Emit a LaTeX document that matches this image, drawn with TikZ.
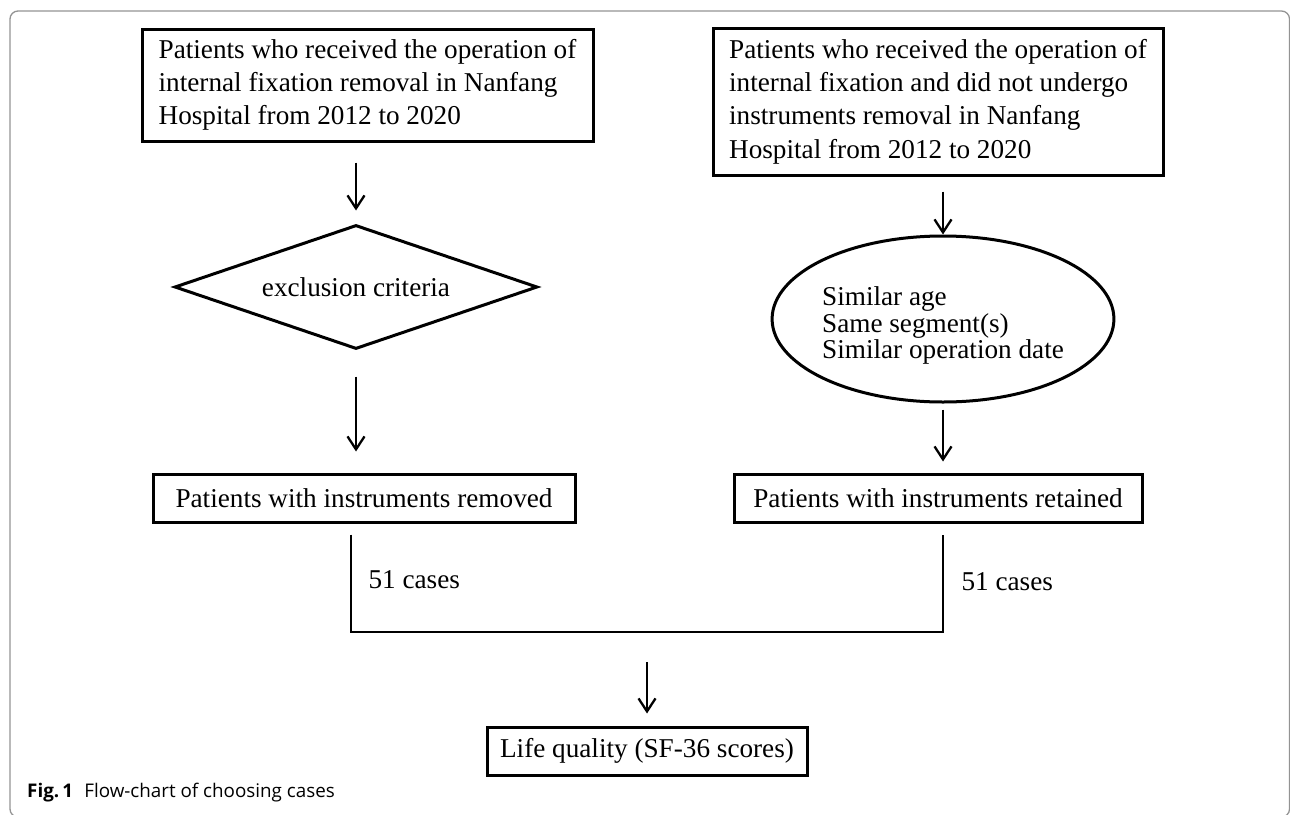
\documentclass[tikz,border=0pt]{standalone}
\usepackage{fontspec}
\setmainfont{Liberation Serif}
\newfontfamily\capfont{Open Sans}
\usepackage{tikz}
\usetikzlibrary{arrows.meta,shapes.geometric}

\newcommand{\chartfont}{\fontsize{27.2}{33.3}\selectfont}

\begin{document}
\begin{tikzpicture}[
  x=1pt, y=-1pt,
  >={Straight Barb[length=13pt,width=17pt]},
  box/.style={draw, line width=3pt, inner ysep=0pt, font=\chartfont},
  arr/.style={->, line width=2.3pt},
  link/.style={line width=2.8pt},
  cases/.style={anchor=west, font=\chartfont}
]
\useasboundingbox (0,0) rectangle (1290,814);
% Frame round the figure
\draw[gray!85, line width=1.3pt, rounded corners=8pt] (10,11) rectangle (1289.5,817);

% Left column: removal group
\node[box, align=left, minimum width=451pt, minimum height=112pt] (topL) at (367.5,85)
  {Patients who received the operation of\\internal fixation removal in Nanfang\\Hospital from 2012 to 2020};
\node[draw, diamond, line width=3pt, inner sep=0pt, aspect=2.93,
  minimum width=363pt, minimum height=124pt, font=\chartfont] (excl) at (356,287) {exclusion criteria};
\node[box, minimum width=422pt, minimum height=48pt] (remL) at (364,498) {Patients with instruments removed};

% Right column: retained group
\node[box, align=left, minimum width=450pt, minimum height=147pt] (topR) at (938,101.5)
  {Patients who received the operation of\\internal fixation and did not undergo\\instruments removal in Nanfang\\Hospital from 2012 to 2020};
\node[draw, ellipse, line width=3pt, inner sep=0pt, minimum width=308pt, minimum height=166pt,
  align=left, font=\fontsize{27.2}{26.5}\selectfont] (match) at (943,319)
  {\rule{0pt}{32pt}Similar age\\Same segment(s)\\Similar operation date};
\node[box, minimum width=408pt, minimum height=48pt] (retR) at (938,498) {Patients with instruments retained};

% Outcome
\node[box, minimum width=320pt, minimum height=48pt] (life) at (647,751) {Life quality (SF-36 scores)};

% Arrows down each column
\draw[arr, shorten <=20pt, shorten >=13pt] (excl.north |- topL.south) -- (excl.north);
\draw[arr, shorten <=26pt, shorten >=21pt] (excl.south) -- (excl.south |- remL.north);
\draw[arr, shorten <=15pt] (match.north |- topR.south) -- (match.north);
\draw[arr, shorten <=6pt, shorten >=11pt] (match.south) -- (match.south |- retR.north);

% Join of the two groups
\coordinate (joinL) at (351,632);
\coordinate (joinR) at (943,632);
\draw[link, shorten <=11pt, shorten >=11pt] (joinL |- remL.south) -- (joinL) -- (joinR) -- (joinR |- retR.south);
\node[cases] (nL) at (365,580) {51 cases};
\node[cases] (nR) at (958,582) {51 cases};
\draw[arr, shorten <=30pt, shorten >=12pt] (life.north |- joinL) -- (life.north);

% Caption
\node[anchor=base west, inner sep=0pt, font=\capfont\fontsize{18.8}{21}\selectfont] (cap) at (27,797)
  {\textbf{Fig.\,1}\hspace{0.6em}Flow-chart of choosing cases};
\end{tikzpicture}
\end{document}
